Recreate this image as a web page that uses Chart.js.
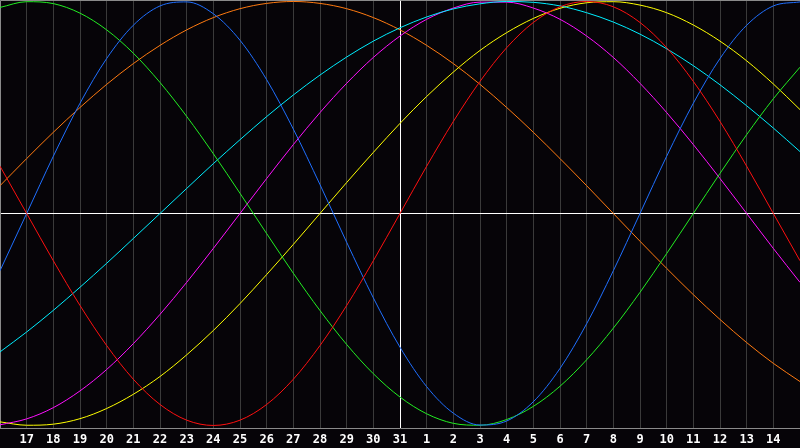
<!DOCTYPE html>
<html>
<head>
<meta charset="utf-8">
<script src="https://cdn.jsdelivr.net/npm/chart.js@4/dist/chart.umd.min.js"></script>
<style>
  html, body { margin: 0; padding: 0; background: #060408; }
  canvas { display: block; }
</style>
</head>
<body>
<canvas id="bio" width="800" height="448"></canvas>
<script>
// day labels along the bottom (16th of one month to 15th of the next)
const days = [16, 17, 18, 19, 20, 21, 22, 23, 24, 25, 26, 27, 28, 29, 30, 31,
              1, 2, 3, 4, 5, 6, 7, 8, 9, 10, 11, 12, 13, 14, 15];

// curve values per day (-1 .. 1)
const red     = [0.223, 0, -0.223, -0.434, -0.623, -0.782, -0.901, -0.975, -1, -0.975, -0.901, -0.782, -0.623, -0.434, -0.223, 0,
                 0.223, 0.434, 0.623, 0.782, 0.901, 0.975, 1, 0.975, 0.901, 0.782, 0.623, 0.434, 0.223, 0, -0.223];
const green   = [0.972, 0.999, 0.990, 0.945, 0.866, 0.756, 0.618, 0.458, 0.282, 0.095, -0.095, -0.282, -0.458, -0.618, -0.756, -0.866,
                 -0.945, -0.990, -0.999, -0.972, -0.910, -0.815, -0.690, -0.541, -0.372, -0.189, 0, 0.189, 0.372, 0.541, 0.690];
const blue    = [-0.270, 0, 0.270, 0.520, 0.731, 0.888, 0.979, 0.998, 0.942, 0.817, 0.631, 0.398, 0.136, -0.136, -0.398, -0.631,
                 -0.817, -0.942, -0.998, -0.979, -0.888, -0.731, -0.520, -0.270, 0, 0.270, 0.520, 0.731, 0.888, 0.979, 0.998];
const cyan    = [-0.653, -0.559, -0.457, -0.348, -0.235, -0.118, 0, 0.118, 0.235, 0.348, 0.457, 0.559, 0.653, 0.738, 0.813, 0.876,
                 0.927, 0.965, 0.989, 1.000, 0.996, 0.979, 0.947, 0.903, 0.846, 0.777, 0.697, 0.607, 0.508, 0.403, 0.292];
const magenta = [-0.997, -0.969, -0.916, -0.837, -0.736, -0.614, -0.476, -0.325, -0.165, 0, 0.165, 0.325, 0.476, 0.614, 0.736, 0.837,
                 0.916, 0.969, 0.997, 0.997, 0.969, 0.916, 0.837, 0.736, 0.614, 0.476, 0.325, 0.165, 0, -0.165, -0.325];
const yellow  = [-0.983, -0.999, -0.994, -0.968, -0.920, -0.853, -0.769, -0.667, -0.552, -0.425, -0.288, -0.146, 0, 0.146, 0.288, 0.425,
                 0.552, 0.667, 0.769, 0.853, 0.920, 0.968, 0.994, 0.999, 0.983, 0.947, 0.889, 0.813, 0.720, 0.611, 0.490];
const orange  = [0.131, 0.259, 0.383, 0.500, 0.609, 0.707, 0.793, 0.866, 0.924, 0.966, 0.991, 1.000, 0.991, 0.966, 0.924, 0.866,
                 0.793, 0.707, 0.609, 0.500, 0.383, 0.259, 0.131, 0, -0.131, -0.259, -0.383, -0.500, -0.609, -0.707, -0.793];

const seriesList = [
    { data: red,     color: '#ff1010' },
    { data: blue,    color: '#1f6fff' },
    { data: green,   color: '#22ee22' },
    { data: cyan,    color: '#00eeff' },
    { data: magenta, color: '#ff10ff' },
    { data: yellow,  color: '#ffff00' },
    { data: orange,  color: '#ff7a10' }
];

const todayIndex = 15;  // the white vertical line (31)

const frame = {
    id: 'frame',
    beforeDraw(chart) {
        const c = chart.ctx;
        c.save();
        c.fillStyle = '#060408';
        c.fillRect(0, 0, chart.width, chart.height);
        c.restore();
    },
    beforeDatasetsDraw(chart) {
        const c = chart.ctx, a = chart.chartArea;
        c.save();
        c.strokeStyle = '#8a8a8a';
        c.lineWidth = 1;
        c.beginPath();
        c.moveTo(0.5, a.bottom);
        c.lineTo(0.5, 0.5);
        c.lineTo(chart.width, 0.5);
        c.stroke();
        c.restore();
    }
};

new Chart(document.getElementById('bio'), {
    type: 'line',
    data: {
        labels: days,
        datasets: seriesList.map(s => ({
            data: s.data,
            borderColor: s.color,
            borderWidth: 1,
            pointRadius: 0,
            cubicInterpolationMode: 'monotone',
            fill: false
        }))
    },
    options: {
        responsive: false,
        animation: false,
        layout: { padding: 0 },
        plugins: { legend: { display: false }, tooltip: { enabled: false } },
        scales: {
            x: {
                type: 'category',
                offset: false,
                grid: {
                    color: ctx => ctx.index === todayIndex ? '#ffffff' : '#3a3a3a',
                    lineWidth: 1,
                    drawTicks: false
                },
                border: { display: true, color: '#8a8a8a' },
                ticks: {
                    autoSkip: false,
                    maxRotation: 0,
                    padding: 5,
                    color: '#ffffff',
                    font: { family: 'DejaVu Sans Mono', size: 12, weight: 'bold' },
                    callback: (v, i) => (i === 0 || i === days.length - 1) ? '' : String(days[i])
                },
                afterFit: s => { s.height = 20; s.paddingLeft = 0; s.paddingRight = 0; }
            },
            y: {
                min: -1.012,
                max: 1.007,
                afterBuildTicks: s => { s.ticks = [{ value: 0 }]; },
                grid: { color: '#ffffff', lineWidth: 1, drawTicks: false },
                border: { display: false },
                ticks: { display: false },
                afterFit: s => { s.width = 0; s.paddingTop = 0; s.paddingBottom = 0; }
            }
        }
    },
    plugins: [frame]
});
</script>
</body>
</html>
